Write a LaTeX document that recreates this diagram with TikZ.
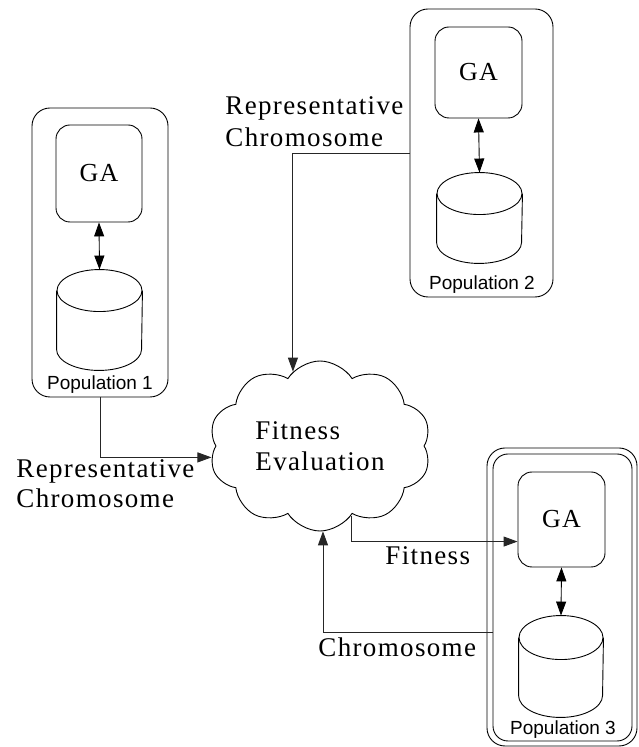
\documentclass[tikz,border=0pt]{standalone}
\usepackage{fontspec}
\setmainfont{Liberation Serif}[LetterSpace=5]
\newfontfamily\labsans{Liberation Sans}
\usetikzlibrary{shapes.symbols,arrows.meta,calc}
\begin{document}
\begin{tikzpicture}[x=1pt,y=1pt,line width=0.9pt,
  popbox/.style={draw,rounded corners=18pt,inner sep=0pt},
  gabox/.style={draw,rounded corners=14pt,inner sep=0pt,font=\fontsize{26}{30}\selectfont},
  cylnode/.style={inner sep=0pt},
  poplabel/.style={inner sep=0pt,font=\labsans\fontsize{19}{22}\selectfont},
  lab/.style={inner sep=0pt,align=left,font=\fontsize{27}{31}\selectfont},
  conn/.style={draw=black!85,line width=0.9pt,-{Triangle[length=14pt,width=10pt]}},
  dbl/.style={draw,line width=0.9pt,{Triangle[length=14pt,width=10pt]}-{Triangle[length=14pt,width=10pt]}}
]
\useasboundingbox (0,0) rectangle (638,747);

% Population 1
\node[popbox,minimum width=136,minimum height=289] (pop1) at (100,494.5) {};
\node[gabox,minimum width=86,minimum height=97] (ga1) at (99,573.5) {GA};
\node[cylnode,minimum width=85,minimum height=100] (cyl1) at (99.5,427) {};
\draw ($(cyl1.north west)+(0,-21)$) -- ($(cyl1.south west)+(0,21)$)
  arc[start angle=180,end angle=360,x radius=42.5,y radius=21] -- ($(cyl1.north east)+(0,-21)$);
\draw ($(cyl1.north)+(0,-21)$) ellipse[x radius=42.5,y radius=21];
\draw[dbl] (ga1.south) -- (cyl1.north);
\node[poplabel] (pl1) at (100,362) {Population 1};

% Population 2
\node[popbox,minimum width=143,minimum height=288] (pop2) at (481.5,594) {};
\node[gabox,minimum width=87,minimum height=91] (ga2) at (478.5,674.5) {GA};
\node[cylnode,minimum width=85,minimum height=90] (cyl2) at (479.5,529) {};
\draw ($(cyl2.north west)+(0,-21)$) -- ($(cyl2.south west)+(0,21)$)
  arc[start angle=180,end angle=360,x radius=42.5,y radius=21] -- ($(cyl2.north east)+(0,-21)$);
\draw ($(cyl2.north)+(0,-21)$) ellipse[x radius=42.5,y radius=21];
\draw[dbl] (ga2.south) -- (cyl2.north);
\node[poplabel] (pl2) at (482,462) {Population 2};

% Population 3
\node[popbox,minimum width=150,minimum height=298] (pop3o) at (562,150) {};
\node[popbox,rounded corners=15pt,minimum width=139,minimum height=287] (pop3) at (562.5,149.5) {};
\node[gabox,minimum width=87,minimum height=95] (ga3) at (561.5,227.5) {GA};
\node[cylnode,minimum width=84,minimum height=101] (cyl3) at (561,80.5) {};
\draw ($(cyl3.north west)+(0,-22)$) -- ($(cyl3.south west)+(0,22)$)
  arc[start angle=180,end angle=360,x radius=42,y radius=22] -- ($(cyl3.north east)+(0,-22)$);
\draw ($(cyl3.north)+(0,-22)$) ellipse[x radius=42,y radius=22];
\draw[dbl] (ga3.south) -- (cyl3.north);
\node[poplabel] (pl3) at (563,17) {Population 3};

% Cloud
\node[cloud,draw,cloud puffs=10,cloud puff arc=115,aspect=1.3,
  minimum width=222,minimum height=170,inner sep=0pt,
  align=left,font=\fontsize{27}{31}\selectfont] (cloud) at (320,301) {Fitness\\Evaluation};

% Connectors
\draw[conn] (pop1.south) |- (cloud.186);
\draw[conn] (pop2.west) -| (cloud.110);
\coordinate (fitin) at ($(ga3.south west)!0.27!(ga3.north west)$);
\draw[conn] (cloud.294) |- (fitin);
\coordinate (chrout) at ($(pop3.south west)!0.38!(pop3.north west)$);
\draw[conn] (chrout) -| (cloud.272);

% Labels
\node[lab,anchor=base west] (l1) at (225,600) {Representative\\[1pt]Chromosome};
\node[lab,anchor=base west] (l2) at (16,239) {Representative\\[-1pt]Chromosome};
\node[lab,anchor=base west] (l3) at (385,182) {Fitness};
\node[lab,anchor=base west] (l4) at (318,90) {Chromosome};
\end{tikzpicture}
\end{document}
